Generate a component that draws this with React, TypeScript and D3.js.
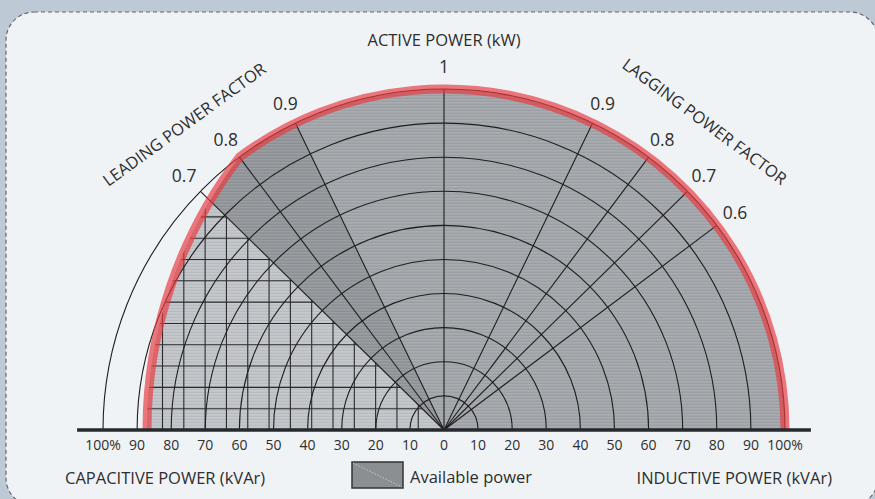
import React from 'react';
import * as d3 from 'd3';

const W = 875;
const H = 499;

// ---- data ----
const ringPercents = [10, 20, 30, 40, 50, 60, 70, 80, 90, 100];
const qTickValues = [-100, -90, -80, -70, -60, -50, -40, -30, -20, -10, 0, 10, 20, 30, 40, 50, 60, 70, 80, 90, 100];
const leadingPF = [0.9, 0.8, 0.7];
const laggingPF = [0.9, 0.8, 0.7, 0.6];
const capLimitCenterQ = 44.5;   // % of rated, on the Q axis
const capLimitRadius = 131.6;   // %
const capLimitPF = 0.8;         // leading pf where the limit meets the rated circle
const lightRegionPF = 0.7;      // below this leading pf: lighter region with rectangular grid
const darkWedgePF = [0.7, 0.9];
const rectGridStep = 6.25;      // %
const rectGridOffset = 1.3;     // %
const rectGridRows = [1, 2, 3, 4, 5, 6, 7, 8, 9, 10];
const rectGridCols = [1, 2, 3, 4, 5, 6, 7, 8, 9, 10, 11, 12, 13];

// ---- layout ----
const CX = 444;
const CY = 430;
const R100 = 341;
const FONT = "'Open Sans', 'DejaVu Sans', sans-serif";
const TXT = '#2e2e2e';

const x = d3.scaleLinear().domain([-100, 100]).range([CX - R100, CX + R100]);
const y = d3.scaleLinear().domain([0, 100]).range([CY, CY - R100]);
const r = d3.scaleLinear().domain([0, 100]).range([0, R100]);

const pfPoint = (pf: number, side: number, rad: number): [number, number] => {
  const th = Math.acos(pf);
  return [x(side * rad * Math.sin(th)), y(rad * Math.cos(th))];
};

// capability limit geometry
const capGeom = (() => {
  const c = capLimitCenterQ;
  const qi = (c * c + 100 * 100 - capLimitRadius * capLimitRadius) / (2 * c);
  const pi = Math.sqrt(100 * 100 - qi * qi);
  const ccx = x(c);
  const a2 = Math.atan2(y(pi) - CY, x(qi) - ccx);
  const aEnd = -(Math.PI / 2 + Math.acos(capLimitPF));
  return { ccx, a2, aEnd };
})();

const boundaryPath = (() => {
  const p = d3.path();
  p.moveTo(x(100), y(0));
  p.arc(CX, CY, r(100), 0, capGeom.aEnd, true);
  p.arc(capGeom.ccx, CY, r(capLimitRadius), capGeom.a2, -Math.PI, true);
  p.closePath();
  return p.toString();
})();

const limitLinePath = (() => {
  const p = d3.path();
  p.moveTo(x(100), y(0));
  p.arc(CX, CY, r(100), 0, capGeom.aEnd, true);
  p.arc(capGeom.ccx, CY, r(capLimitRadius), capGeom.a2, -Math.PI, true);
  return p.toString();
})();

const ringPath = (v: number) => {
  const p = d3.path();
  p.moveTo(x(-v), y(0));
  p.arc(CX, CY, r(v), Math.PI, 0, false);
  return p.toString();
};

const lightWedge = (() => {
  const a = pfPoint(lightRegionPF, -1, 160);
  return `M${CX},${CY}L${a[0]},${a[1]}L${x(-160)},${CY}Z`;
})();

const darkWedge = (() => {
  const a = pfPoint(darkWedgePF[0], -1, 160);
  const b = pfPoint(darkWedgePF[1], -1, 160);
  return `M${CX},${CY}L${a[0]},${a[1]}L${b[0]},${b[1]}Z`;
})();

const tan07 = Math.tan(Math.acos(lightRegionPF));

export default function App() {
  const labelR = 106.7;
  return (
    <svg width={W} height={H} style={{ position: 'absolute', left: 0, top: 0 }} fontFamily={FONT}>
      <defs>
        <clipPath id="capClip">
          <path d={boundaryPath} />
        </clipPath>
        <clipPath id="lightClip">
          <path d={lightWedge} />
        </clipPath>
        <pattern id="brush" patternUnits="userSpaceOnUse" width="12" height="3">
          <rect width="12" height="1" y="0" fill="#ffffff" opacity="0.07" />
          <rect width="12" height="1" y="2" fill="#000000" opacity="0.05" />
        </pattern>
      </defs>
      <rect x={0} y={0} width={W} height={H} fill="#bdc9d5" />
      <rect x={6} y={12} width={872} height={494} rx={28} fill="#f0f3f6" stroke="#666" strokeWidth={1.2} strokeDasharray="4 3" />

      {/* available power fill */}
      <path d={boundaryPath} fill="#a3a7ab" />
      <g clipPath="url(#capClip)">
        <path d={darkWedge} fill="#93979b" />
        <path d={lightWedge} fill="#c1c5c9" />
        <rect x={0} y={0} width={W} height={H} fill="url(#brush)" />
        <g clipPath="url(#lightClip)" stroke="#2a2a2a" strokeWidth={1.1}>
          {rectGridRows.map((k) => {
            const P = k * rectGridStep;
            return <line key={'h' + k} x1={x(-120)} x2={x(-P * tan07)} y1={y(P)} y2={y(P)} />;
          })}
          {rectGridCols.map((k) => {
            const Q = -(rectGridOffset + k * rectGridStep);
            return <line key={'v' + k} x1={x(Q)} x2={x(Q)} y1={y(0)} y2={y(-Q / tan07)} />;
          })}
        </g>
      </g>

      {/* rings */}
      <g fill="none" stroke="#1e1e1e" strokeWidth={1.1}>
        {ringPercents.map((v) => (
          <path key={v} d={ringPath(v)} />
        ))}
      </g>
      {/* radial lines */}
      <g stroke="#1e1e1e" strokeWidth={1.1}>
        <line x1={CX} y1={CY} x2={x(0)} y2={y(100)} />
        {leadingPF.map((pf) => {
          const [px, py] = pfPoint(pf, -1, 100);
          return <line key={'ld' + pf} x1={CX} y1={CY} x2={px} y2={py} />;
        })}
        {laggingPF.map((pf) => {
          const [px, py] = pfPoint(pf, 1, 100);
          return <line key={'lg' + pf} x1={CX} y1={CY} x2={px} y2={py} />;
        })}
      </g>

      {/* capability limit */}
      <path d={limitLinePath} fill="none" stroke="#e8393f" strokeOpacity={0.68} strokeWidth={9} strokeLinejoin="round" />

      {/* baseline axis */}
      <line x1={x(-107.6)} x2={x(107.6)} y1={CY} y2={CY} stroke="#262a2e" strokeWidth={3.5} />

      {/* Q tick labels */}
      <g fontSize={14} fill={TXT} textAnchor="middle">
        {qTickValues.map((v) => (
          <text key={v} x={x(v)} y={450}>
            {Math.abs(v) === 100 ? '100%' : String(Math.abs(v))}
          </text>
        ))}
      </g>

      {/* pf labels */}
      <g fontSize={17.5} fill={TXT} textAnchor="middle" dominantBaseline="central">
        <text x={x(0)} y={y(labelR)}>1</text>
        {leadingPF.map((pf) => {
          const [px, py] = pfPoint(pf, -1, labelR);
          return <text key={'lt' + pf} x={px} y={py}>{pf.toFixed(1)}</text>;
        })}
        {laggingPF.map((pf) => {
          const [px, py] = pfPoint(pf, 1, labelR);
          return <text key={'gt' + pf} x={px} y={py}>{pf.toFixed(1)}</text>;
        })}
      </g>

      {/* titles */}
      <g fontSize={16.5} fill={TXT}>
        <text x={CX} y={46} textAnchor="middle">ACTIVE POWER (kW)</text>
        <text x={65} y={484}>CAPACITIVE POWER (kVAr)</text>
        <text x={832} y={484} textAnchor="end">INDUCTIVE POWER (kVAr)</text>
        <text transform="translate(184,124) rotate(-36)" textAnchor="middle" dominantBaseline="central">LEADING POWER FACTOR</text>
        <text transform="translate(705,121) rotate(36.5)" textAnchor="middle" dominantBaseline="central">LAGGING POWER FACTOR</text>
      </g>

      {/* legend */}
      <g>
        <rect x={352} y={462} width={51} height={26} fill="#8b8f92" stroke="#333" strokeWidth={1.5} />
        <line x1={353} y1={463} x2={402} y2={487} stroke="#d0d4d8" strokeWidth={0.8} strokeDasharray="1.5 1.5" />
        <text x={410} y={483} fontSize={16.5} fill={TXT}>Available power</text>
      </g>
    </svg>
  );
}
